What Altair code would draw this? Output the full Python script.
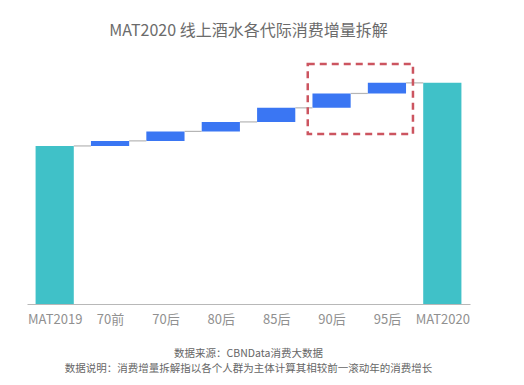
import altair as alt
import pandas as pd

FONT = "Noto Sans CJK SC"

categories = ["MAT2019", "70前", "70后", "80后", "85后", "90后", "95后", "MAT2020"]
kinds = ["total", "delta", "delta", "delta", "delta", "delta", "delta", "total"]
# index: MAT2019 = 100; increments per generation
changes = [100, 3.2, 6.0, 6.0, 8.9, 9.1, 6.7, 0]

title_text = "MAT2020 线上酒水各代际消费增量拆解"
footnotes = ["数据来源：CBNData消费大数据",
             "数据说明：消费增量拆解指以各个人群为主体计算其相较前一滚动年的消费增长"]

highlight_from, highlight_to = 4.57, 6.47      # in category-index units
highlight_low, highlight_high = 107.6, 151.9

HALF = 0.345  # half bar width in category-step units

rows = []
cum = 0.0
for i, (c, k, v) in enumerate(zip(categories, kinds, changes)):
    if k == "total" and i == 0:
        start, end = 0.0, v
        cum = v
    elif k == "total":
        start, end = 0.0, cum
    else:
        start, end = cum, cum + v
        cum = end
    rows.append({"cat": c, "idx": i, "x0": i - HALF, "x1": i + HALF,
                 "kind": k, "start": start, "end": end})
df = pd.DataFrame(rows)

conn = pd.DataFrame({
    "x0": [i + HALF for i in range(len(categories) - 1)],
    "x1": [i + 1 - HALF for i in range(len(categories) - 1)],
    "level": df["end"].tolist()[:-1],
})

box = pd.DataFrame({"a": [highlight_from], "b": [highlight_to],
                    "lo": [highlight_low], "hi": [highlight_high]})

notes = pd.DataFrame({"text": footnotes, "line": [0, 1]})

label_js = "[" + ",".join("'" + c + "'" for c in categories) + "][datum.value]"

xscale = alt.Scale(domain=[-0.5, len(categories) - 0.5], nice=False, zero=False)
yscale = alt.Scale(domain=[0, 155], nice=False, zero=True)

xaxis = alt.Axis(
    title=None, values=list(range(len(categories))), labelExpr=label_js,
    labelAngle=0, labelFontSize=13, labelColor="#909090", labelFont=FONT,
    labelPadding=9, ticks=False, tickSize=0, domainColor="#b8b8b8", domainWidth=1,
    grid=False, labelFlush=False, labelOverlap=False,
)

bars = alt.Chart(df).mark_rect().encode(
    x=alt.X("x0:Q", scale=xscale, axis=xaxis),
    x2="x1:Q",
    y=alt.Y("start:Q", scale=yscale, axis=None),
    y2="end:Q",
    color=alt.Color("kind:N", scale=alt.Scale(domain=["total", "delta"],
                                              range=["#40c1c8", "#3a76f3"]), legend=None),
)

rules = alt.Chart(conn).mark_rule(color="#b5b5b5", strokeWidth=1.2).encode(
    x=alt.X("x0:Q", scale=xscale, axis=xaxis),
    x2="x1:Q",
    y=alt.Y("level:Q", scale=yscale, axis=None),
)

rect = alt.Chart(box).mark_rect(
    filled=False, stroke="#cc5560", strokeWidth=2.5, strokeDash=[7, 5],
).encode(
    x=alt.X("a:Q", scale=xscale, axis=xaxis),
    x2="b:Q",
    y=alt.Y("lo:Q", scale=yscale, axis=None),
    y2="hi:Q",
)

note_text = alt.Chart(notes).mark_text(
    font=FONT, fontSize=10.5, color="#666666", align="center", baseline="middle",
).encode(
    x=alt.value(221.5),
    y=alt.Y("line:Q", scale=alt.Scale(domain=[0, 1], range=[295, 310]), axis=None),
    text="text:N",
)

chart = alt.layer(bars, rules, rect, note_text).resolve_scale(y="independent").properties(
    width=443, height=245,
    title=alt.TitleParams(title_text, fontSize=16, color="#6b6b6b", font=FONT,
                          fontWeight="normal", anchor="middle", offset=20),
    autosize=alt.AutoSizeParams(type="none"),
    padding={"left": 19, "top": 51, "right": 40, "bottom": 70},
).configure_view(stroke=None)

chart.save("out.html", embed_options={"renderer": "svg", "actions": False})
